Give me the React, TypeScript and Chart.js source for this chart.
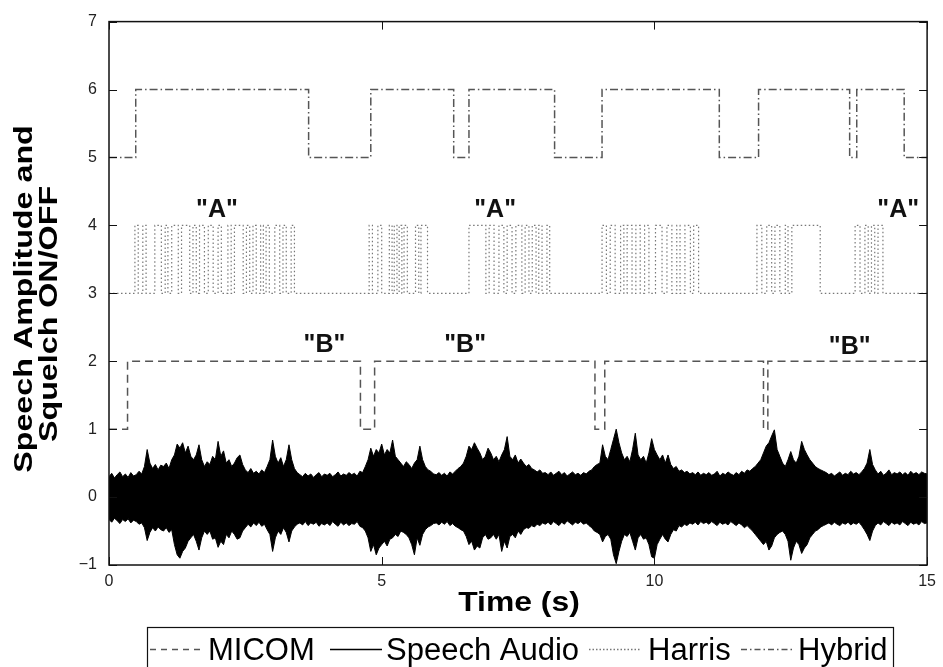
import React, { useEffect, useRef } from "react";
import { Chart, registerables } from "chart.js";

Chart.register(...registerables);

// ---------- data ----------
const micomTimes = [0, 0.34, 4.61, 4.87, 8.91, 9.09, 12.0, 12.08, 15];
const micomLevels = [1, 2, 1, 2, 1, 2, 1, 2, 2];

const hybridTimes = [0, 0.49, 3.66, 4.8, 6.32, 6.6, 8.17, 9.04, 11.19, 11.91, 13.58, 13.71, 14.58, 15];
const hybridLevels = [5, 6, 5, 6, 5, 6, 5, 6, 5, 6, 5, 6, 5, 5];

// Harris squelch toggles (alternating ON=4 / OFF=3), starting OFF
const harrisToggleTimes = [
  0.475, 0.536, 0.62, 0.68, 0.84, 0.96, 1.03, 1.08, 1.15, 1.27, 1.33, 1.48, 1.54, 1.6, 1.66, 1.75, 1.82, 1.91, 2.0,
  2.06, 2.18, 2.24, 2.3, 2.46, 2.52, 2.58, 2.64, 2.7, 2.78, 2.83, 2.88, 2.94, 3.04, 3.13, 3.19, 3.25, 3.34, 3.4,
  4.77, 4.83, 4.93, 5.0, 5.14, 5.19, 5.23, 5.28, 5.32, 5.37, 5.41, 5.47, 5.62, 5.68, 5.72, 5.84,
  6.6, 6.91, 6.97, 7.06, 7.15, 7.24, 7.3, 7.39, 7.46, 7.57, 7.63, 7.7, 7.76, 7.83, 7.88, 7.94, 8.03, 8.08,
  9.04, 9.12, 9.19, 9.28, 9.38, 9.44, 9.5, 9.59, 9.66, 9.74, 9.82, 9.9, 10.02, 10.14, 10.23, 10.32, 10.41, 10.47,
  10.56, 10.66, 10.72, 10.81,
  11.88, 11.97, 12.06, 12.15, 12.21, 12.3, 12.4, 12.45, 12.52, 13.04,
  13.68, 13.77, 13.86, 13.92, 13.98, 14.04, 14.1, 14.19,
];
const harrisOff = 3;
const harrisOn = 4;

// Speech audio envelope, sampled every 0.05 s from 0 to 15 s (one line per second)
const speechStep = 0.05;
const speechUpper = [
  0.3, 0.35, 0.28, 0.33, 0.37, 0.3, 0.34, 0.29, 0.36, 0.31, 0.33, 0.38, 0.34, 0.45, 0.7, 0.5, 0.42, 0.48, 0.4, 0.47,
  0.45, 0.5, 0.42, 0.55, 0.62, 0.78, 0.72, 0.8, 0.65, 0.75, 0.6, 0.55, 0.62, 0.77, 0.55, 0.45, 0.52, 0.48, 0.6, 0.55,
  0.82, 0.6, 0.68, 0.5, 0.55, 0.45, 0.5, 0.58, 0.62, 0.48, 0.4, 0.36, 0.42, 0.35, 0.38, 0.34, 0.4, 0.36, 0.45, 0.55,
  0.84, 0.6, 0.5, 0.58, 0.45, 0.55, 0.77, 0.55, 0.42, 0.36, 0.33, 0.3, 0.35, 0.31, 0.34, 0.29, 0.33, 0.36, 0.3, 0.34,
  0.32, 0.35, 0.3, 0.33, 0.37, 0.31, 0.34, 0.32, 0.36, 0.33, 0.35, 0.31, 0.38, 0.36, 0.45, 0.55, 0.72, 0.6, 0.7, 0.65,
  0.78, 0.62, 0.7, 0.65, 0.84, 0.6, 0.55, 0.5, 0.45, 0.52, 0.48, 0.42, 0.5, 0.55, 0.75, 0.55, 0.45, 0.4, 0.38, 0.34,
  0.33, 0.36, 0.32, 0.35, 0.31, 0.37, 0.34, 0.38, 0.42, 0.45, 0.5, 0.6, 0.75, 0.7, 0.8, 0.72, 0.65, 0.55, 0.6, 0.72,
  0.65, 0.55, 0.6, 0.52, 0.62, 0.7, 0.89, 0.6, 0.55, 0.62, 0.5, 0.56, 0.5, 0.45, 0.48, 0.42, 0.4, 0.37, 0.4, 0.35,
  0.36, 0.33, 0.37, 0.32, 0.35, 0.38, 0.33, 0.36, 0.31, 0.34, 0.37, 0.33, 0.35, 0.32, 0.36, 0.34, 0.38, 0.4, 0.45, 0.48,
  0.5, 0.77, 0.6, 0.55, 0.7, 0.85, 1.0, 0.8, 0.65, 0.55, 0.6, 0.52, 0.7, 0.94, 0.62, 0.55, 0.6, 0.5, 0.65, 0.86,
  0.7, 0.62, 0.55, 0.62, 0.5, 0.62, 0.48, 0.42, 0.45, 0.38, 0.4, 0.36, 0.38, 0.34, 0.36, 0.33, 0.37, 0.32, 0.35, 0.33,
  0.36, 0.32, 0.34, 0.38, 0.31, 0.35, 0.33, 0.37, 0.34, 0.32, 0.36, 0.33, 0.38, 0.35, 0.4, 0.38, 0.42, 0.45, 0.5, 0.55,
  0.65, 0.75, 0.8, 0.9, 0.99, 0.7, 0.6, 0.5, 0.45, 0.55, 0.67, 0.55, 0.5, 0.6, 0.82, 0.7, 0.62, 0.55, 0.5, 0.45,
  0.42, 0.4, 0.38, 0.36, 0.33, 0.35, 0.31, 0.34, 0.37, 0.32, 0.35, 0.33, 0.38, 0.34, 0.36, 0.33, 0.37, 0.42, 0.5, 0.7,
  0.48, 0.4, 0.34, 0.38, 0.32, 0.35, 0.4, 0.33, 0.36, 0.34, 0.37, 0.33, 0.36, 0.32, 0.38, 0.34, 0.36, 0.33, 0.37, 0.35,
  0.34,
];
const speechLower = [
  -0.33, -0.37, -0.31, -0.35, -0.39, -0.33, -0.36, -0.32, -0.38, -0.34, -0.36, -0.4, -0.38, -0.45, -0.64, -0.52, -0.45, -0.5, -0.44, -0.48,
  -0.5, -0.45, -0.52, -0.48, -0.7, -0.85, -0.9, -0.8, -0.75, -0.65, -0.6, -0.55, -0.65, -0.78, -0.6, -0.5, -0.55, -0.5, -0.62, -0.6,
  -0.74, -0.65, -0.7, -0.55, -0.6, -0.5, -0.55, -0.62, -0.6, -0.5, -0.45, -0.4, -0.44, -0.38, -0.42, -0.37, -0.43, -0.4, -0.48, -0.55,
  -0.8, -0.6, -0.5, -0.55, -0.45, -0.52, -0.66, -0.5, -0.44, -0.4, -0.38, -0.41, -0.36, -0.42, -0.38, -0.4, -0.37, -0.43, -0.39, -0.41,
  -0.38, -0.42, -0.36, -0.4, -0.43, -0.37, -0.41, -0.38, -0.42, -0.39, -0.4, -0.36, -0.43, -0.45, -0.5, -0.6, -0.8, -0.7, -0.85, -0.75,
  -0.7, -0.65, -0.72, -0.62, -0.6, -0.55, -0.58, -0.5, -0.52, -0.55, -0.6, -0.7, -0.85, -0.6, -0.71, -0.55, -0.48, -0.44, -0.42, -0.39,
  -0.38, -0.41, -0.37, -0.4, -0.36, -0.42, -0.39, -0.43, -0.45, -0.48, -0.5, -0.58, -0.7, -0.65, -0.78, -0.72, -0.75, -0.6, -0.55, -0.62,
  -0.6, -0.55, -0.62, -0.55, -0.8, -0.65, -0.75, -0.58, -0.55, -0.6, -0.5, -0.55, -0.48, -0.45, -0.46, -0.42, -0.44, -0.4, -0.42, -0.38,
  -0.4, -0.37, -0.41, -0.36, -0.39, -0.42, -0.37, -0.4, -0.35, -0.38, -0.41, -0.37, -0.39, -0.36, -0.4, -0.38, -0.42, -0.45, -0.5, -0.52,
  -0.55, -0.66, -0.58, -0.55, -0.62, -0.85, -0.98, -0.8, -0.65, -0.55, -0.58, -0.52, -0.65, -0.78, -0.6, -0.55, -0.62, -0.6, -0.7, -0.88,
  -0.9, -0.7, -0.62, -0.55, -0.62, -0.66, -0.55, -0.48, -0.5, -0.42, -0.44, -0.4, -0.42, -0.38, -0.4, -0.37, -0.41, -0.36, -0.39, -0.37,
  -0.4, -0.36, -0.39, -0.42, -0.37, -0.4, -0.38, -0.41, -0.36, -0.39, -0.42, -0.38, -0.41, -0.45, -0.42, -0.46, -0.5, -0.55, -0.6, -0.65,
  -0.7, -0.65, -0.78, -0.72, -0.6, -0.55, -0.52, -0.5, -0.55, -0.65, -0.93, -0.75, -0.65, -0.7, -0.83, -0.75, -0.7, -0.6, -0.55, -0.5,
  -0.48, -0.44, -0.42, -0.4, -0.38, -0.41, -0.37, -0.4, -0.42, -0.38, -0.4, -0.37, -0.41, -0.38, -0.4, -0.37, -0.42, -0.48, -0.55, -0.64,
  -0.5, -0.42, -0.38, -0.41, -0.36, -0.39, -0.42, -0.37, -0.4, -0.38, -0.41, -0.36, -0.39, -0.42, -0.37, -0.4, -0.38, -0.41, -0.36, -0.39,
  -0.38,
];

const annotationTexts = ['"A"', '"A"', '"A"', '"B"', '"B"', '"B"'];
const annotationX = [1.98, 7.08, 14.47, 3.95, 6.53, 13.58];
const annotationY = [4.13, 4.13, 4.13, 2.13, 2.13, 2.11];

const xTickValues = [0, 5, 10, 15];
const yTickValues = [-1, 0, 1, 2, 3, 4, 5, 6, 7];

const legendLabels = ["MICOM", "Speech Audio", "Harris", "Hybrid"];
const xTitle = "Time (s)";
const yTitleLines = ["Speech Amplitude and", "Squelch ON/OFF"];

// ---------- styles ----------
const FONT = "'Liberation Sans', Arial, Helvetica, sans-serif";
const micomDash = [8, 5];
const harrisDash = [1.5, 2.5];
const hybridDash = [8, 3, 1.5, 3];
const micomColor = "#555";
const harrisColor = "#777";
const hybridColor = "#555";

export default function App() {
  const ref = useRef<HTMLCanvasElement | null>(null);

  useEffect(() => {
    document.body.style.margin = "0";
    const canvas = ref.current;
    if (!canvas) return;

    const micomData = micomTimes.map((t, i) => ({ x: t, y: micomLevels[i] }));
    const hybridData = hybridTimes.map((t, i) => ({ x: t, y: hybridLevels[i] }));
    const harrisData: { x: number; y: number }[] = [{ x: 0, y: harrisOff }];
    harrisToggleTimes.forEach((t, i) => harrisData.push({ x: t, y: i % 2 === 0 ? harrisOn : harrisOff }));
    harrisData.push({ x: 15, y: harrisOff });
    const upperData = speechUpper.map((v, i) => ({ x: +(i * speechStep).toFixed(3), y: v }));
    const lowerData = speechLower.map((v, i) => ({ x: +(i * speechStep).toFixed(3), y: v }));

    const drawStretched = (ctx: CanvasRenderingContext2D, text: string, x: number, y: number, rot: number, sx: number) => {
      ctx.save();
      ctx.translate(x, y);
      if (rot) ctx.rotate(rot);
      ctx.scale(sx, 1);
      ctx.fillText(text, 0, 0);
      ctx.restore();
    };

    const decorPlugin = {
      id: "decor",
      afterDraw(chart: any) {
        const { ctx, chartArea: a, scales } = chart;
        const xs = scales.x;
        const ys = scales.y;
        ctx.save();
        // annotations
        ctx.fillStyle = "#111";
        ctx.font = `bold 25px ${FONT}`;
        ctx.textAlign = "center";
        ctx.textBaseline = "alphabetic";
        annotationTexts.forEach((txt, i) => {
          ctx.fillText(txt, xs.getPixelForValue(annotationX[i]), ys.getPixelForValue(annotationY[i]));
        });
        // box
        ctx.strokeStyle = "#111";
        ctx.lineWidth = 1.5;
        ctx.setLineDash([]);
        ctx.strokeRect(a.left, a.top, a.right - a.left, a.bottom - a.top);
        // inward ticks
        const tl = 8;
        ctx.lineWidth = 1;
        ctx.beginPath();
        xTickValues.forEach((v) => {
          const px = Math.round(xs.getPixelForValue(v)) + 0.5;
          ctx.moveTo(px, a.bottom);
          ctx.lineTo(px, a.bottom - tl);
          ctx.moveTo(px, a.top);
          ctx.lineTo(px, a.top + tl);
        });
        yTickValues.forEach((v) => {
          const py = Math.round(ys.getPixelForValue(v)) + 0.5;
          ctx.moveTo(a.left, py);
          ctx.lineTo(a.left + tl, py);
          ctx.moveTo(a.right, py);
          ctx.lineTo(a.right - tl, py);
        });
        ctx.stroke();
        // x title
        ctx.fillStyle = "#000";
        ctx.textAlign = "center";
        ctx.font = `bold 27px ${FONT}`;
        drawStretched(ctx, xTitle, 519, 611, 0, 1.18);
        // y title (rotated, two lines)
        ctx.font = `bold 26px ${FONT}`;
        drawStretched(ctx, yTitleLines[0], 32, 299, -Math.PI / 2, 1.24);
        drawStretched(ctx, yTitleLines[1], 57, 314, -Math.PI / 2, 1.24);
        // legend
        ctx.strokeStyle = "#111";
        ctx.lineWidth = 1.2;
        ctx.setLineDash([]);
        ctx.strokeRect(147.5, 627.5, 746, 60);
        const ly = 649.5;
        const samples = [
          { x0: 150, x1: 203, color: micomColor, dash: [6, 5], w: 1.3, tx: 208 },
          { x0: 330, x1: 382, color: "#000", dash: [], w: 1.3, tx: 386 },
          { x0: 589, x1: 641, color: harrisColor, dash: [1.5, 2], w: 1.3, tx: 648 },
          { x0: 741, x1: 795, color: hybridColor, dash: [6, 3, 1.5, 3], w: 1.3, tx: 798 },
        ];
        ctx.font = `31px ${FONT}`;
        ctx.textAlign = "left";
        ctx.textBaseline = "alphabetic";
        samples.forEach((s, i) => {
          ctx.strokeStyle = s.color;
          ctx.lineWidth = s.w;
          ctx.setLineDash(s.dash);
          ctx.beginPath();
          ctx.moveTo(s.x0, ly);
          ctx.lineTo(s.x1, ly);
          ctx.stroke();
          ctx.fillStyle = "#000";
          ctx.fillText(legendLabels[i], s.tx, 660);
        });
        ctx.restore();
      },
    };

    const chart = new Chart(canvas, {
      type: "line",
      data: {
        datasets: [
          {
            label: legendLabels[0],
            data: micomData,
            borderColor: micomColor,
            borderWidth: 1.5,
            borderDash: micomDash,
            stepped: true,
            pointRadius: 0,
            fill: false,
          },
          {
            label: legendLabels[1],
            data: upperData,
            borderColor: "#000",
            borderWidth: 1,
            pointRadius: 0,
            tension: 0,
            fill: false,
          },
          {
            label: "speech-lower",
            data: lowerData,
            borderColor: "#000",
            backgroundColor: "#000",
            borderWidth: 1,
            pointRadius: 0,
            tension: 0,
            fill: "-1",
          },
          {
            label: legendLabels[2],
            data: harrisData,
            borderColor: harrisColor,
            borderWidth: 1.2,
            borderDash: harrisDash,
            stepped: true,
            pointRadius: 0,
            fill: false,
          },
          {
            label: legendLabels[3],
            data: hybridData,
            borderColor: hybridColor,
            borderWidth: 1.5,
            borderDash: hybridDash,
            stepped: true,
            pointRadius: 0,
            fill: false,
          },
        ],
      },
      options: {
        responsive: false,
        animation: false,
        devicePixelRatio: 1,
        layout: { padding: { left: 0, top: 15, right: 14, bottom: 0 } },
        plugins: {
          legend: { display: false },
          tooltip: { enabled: false },
        },
        scales: {
          x: {
            type: "linear",
            min: 0,
            max: 15,
            grid: { display: false, drawTicks: false },
            border: { display: false },
            ticks: {
              stepSize: 5,
              padding: 7,
              color: "#222",
              font: { family: FONT, size: 16 },
              maxRotation: 0,
            },
            afterFit(scale: any) {
              scale.height = 102;
            },
          },
          y: {
            type: "linear",
            min: -1,
            max: 7,
            grid: { display: false, drawTicks: false },
            border: { display: false },
            ticks: {
              stepSize: 1,
              padding: 12,
              color: "#222",
              font: { family: FONT, size: 16 },
              callback: (v: any) => String(v).replace("-", "\u2212"),
            },
            afterFit(scale: any) {
              scale.width = 109;
            },
          },
        },
      },
      plugins: [decorPlugin],
    });

    return () => chart.destroy();
  }, []);

  return (
    <div style={{ position: "fixed", left: 0, top: 0, width: 943, height: 667, background: "#fff" }}>
      <canvas ref={ref} width={943} height={667} style={{ width: 943, height: 667, display: "block" }} />
    </div>
  );
}
